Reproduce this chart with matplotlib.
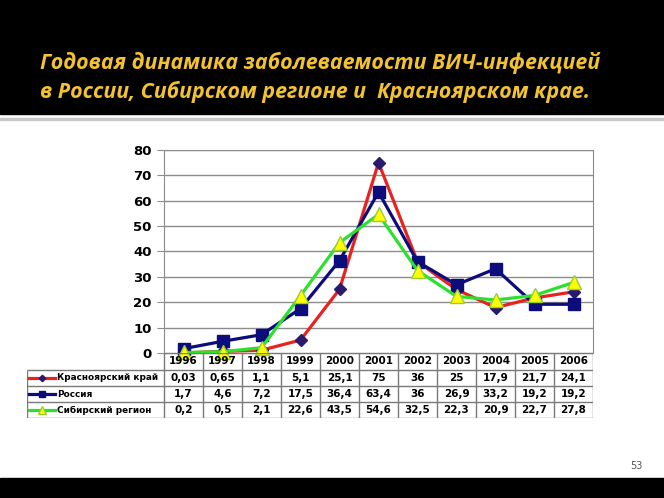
import matplotlib.pyplot as plt
from matplotlib.patches import Rectangle
from matplotlib.lines import Line2D

# данные
years = ['1996', '1997', '1998', '1999', '2000', '2001', '2002', '2003', '2004', '2005', '2006']
krasnoyarsk = [0.03, 0.65, 1.1, 5.1, 25.1, 75, 36, 25, 17.9, 21.7, 24.1]
russia = [1.7, 4.6, 7.2, 17.5, 36.4, 63.4, 36, 26.9, 33.2, 19.2, 19.2]
siberia = [0.2, 0.5, 2.1, 22.6, 43.5, 54.6, 32.5, 22.3, 20.9, 22.7, 27.8]
series_names = ['Красноярский край', 'Россия', 'Сибирский регион']
title_lines = ['Годовая динамика заболеваемости ВИЧ-инфекцией',
               'в России, Сибирском регионе и  Красноярском крае.']

W, H = 664, 498
def fx(px): return px / W
def fy(py): return 1 - py / H

styles = [
    dict(color='#E8221E', marker='D', ms=6, mfc='#2A1A6E', mec='#2A1A6E'),
    dict(color='#0C0C7A', marker='s', ms=8.5, mfc='#0C0C7A', mec='#0C0C7A'),
    dict(color='#2EE02E', marker='^', ms=9.5, mfc='#FFFF00', mec='#9ACD32'),
]

fig = plt.figure(figsize=(W / 100, H / 100), dpi=100)
fig.patch.set_facecolor('white')

# чёрные полосы
fig.patches.append(Rectangle((0, fy(114)), 1, 114 / H, transform=fig.transFigure,
                             color='black', zorder=0))
fig.patches.append(Rectangle((0, 0), 1, (H - 478) / H, transform=fig.transFigure,
                             color='black', zorder=0))
fig.add_artist(Line2D([0, 1], [fy(119), fy(119)], transform=fig.transFigure,
                      color='#C8C8C8', lw=2.5))

for i, line in enumerate(title_lines):
    fig.text(fx(40), fy(63 + i * 29), line, color='#F2C230', fontsize=15.4,
             fontstyle='italic', fontweight='bold', family='Open Sans', va='center')

fig.text(fx(636), fy(466), '53', fontsize=7, color='#555555', ha='center', va='center')

# график
ax = fig.add_axes([fx(164), fy(353), fx(593) - fx(164), 203 / H])
x = list(range(len(years)))
for vals, st in zip([krasnoyarsk, russia, siberia], styles):
    ax.plot(x, vals, lw=2.3, zorder=3, clip_on=False, **st)
ax.set_xlim(-0.5, 10.5)
ax.set_ylim(0, 80)
ax.set_yticks(range(0, 81, 10))
ax.set_xticks([])
ax.grid(axis='y', color='#8C8C8C', lw=1)
ax.set_axisbelow(True)
for s in ax.spines.values():
    s.set_color('#8C8C8C')
ax.tick_params(axis='y', length=5, color='#8C8C8C', labelsize=9.5, pad=4)
for lab in ax.get_yticklabels():
    lab.set_fontweight('bold')

# таблица данных
tx = fig.add_axes([fx(27), fy(418), fx(593) - fx(27), 65 / H])
label_w = (164 - 27) / 39.0
tx.set_xlim(-0.5 - label_w, 10.5)
tx.set_ylim(418, 353)
tx.axis('off')
gc = '#7A7A7A'
tx.hlines([353], -0.5, 10.5, color=gc, lw=1)
tx.hlines([370, 386, 402, 418], -0.5 - label_w, 10.5, color=gc, lw=1)
tx.vlines([k - 0.5 for k in range(12)], 353, 418, color=gc, lw=1)
tx.vlines([-0.5 - label_w], 370, 418, color=gc, lw=1)

for i, yr in enumerate(years):
    tx.text(i, 361.5, yr, ha='center', va='center', fontsize=7.5, fontweight='bold')

row_y = [378, 394, 410]
for r, (vals, name, st) in enumerate(zip([krasnoyarsk, russia, siberia], series_names, styles)):
    for i, v in enumerate(vals):
        tx.text(i, row_y[r], f'{v:g}'.replace('.', ','), ha='center', va='center',
                fontsize=7.5, fontweight='bold')
    x0 = -0.5 - label_w
    tx.plot([x0 + 2 / 39, x0 + 28 / 39], [row_y[r]] * 2, lw=2.3, color=st['color'])
    tx.plot([x0 + 15 / 39], [row_y[r]], ls='none', marker=st['marker'],
            ms=st['ms'] * 0.55, mfc=st['mfc'], mec=st['mec'])
    tx.text(x0 + 30 / 39, row_y[r], name, ha='left', va='center', fontsize=6.4,
            fontweight='bold')

fig.savefig('out.png', dpi=100)
